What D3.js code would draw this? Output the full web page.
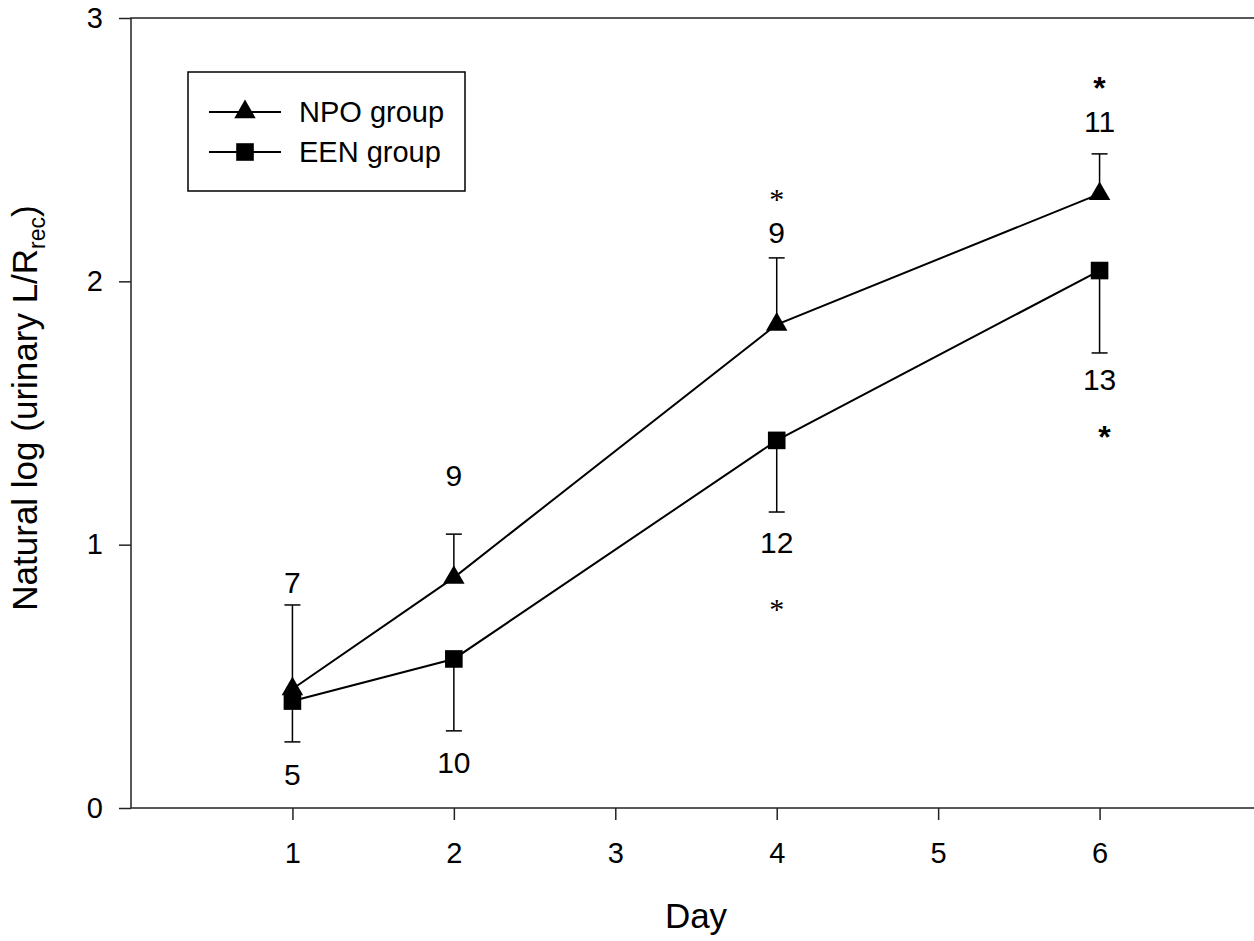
<!DOCTYPE html>
<html>
<head>
<meta charset="utf-8">
<script src="https://cdn.jsdelivr.net/npm/d3@7"></script>
<style>
  body { margin: 0; background: #fff; }
  text { font-family: Arial, "Liberation Sans", sans-serif; fill: #000; }
</style>
</head>
<body>
<div id="chart"></div>
<script>
// Data
var days = [1, 2, 4, 6];
var npoMean = [0.452, 0.875, 1.836, 2.332];
var npoUpper = [0.771, 1.04, 2.089, 2.484];
var eenMean = [0.406, 0.566, 1.396, 2.041];
var eenLower = [0.251, 0.293, 1.124, 1.728];
var npoN = ['7', '9', '9', '11'];
var eenN = ['5', '10', '12', '13'];
var npoNy = [0.856, 1.265, 2.186, 2.609];
var eenNy = [0.129, 0.175, 1.008, 1.629];
// significance stars: day, y value, style
var stars = [
  {day: 4, y: 2.355, bold: false},
  {day: 6, y: 2.769, bold: true},
  {day: 4, y: 0.80, bold: false},
  {day: 6.03, y: 1.443, bold: true}
];
var xTicks = [1, 2, 3, 4, 5, 6];
var yTicks = [0, 1, 2, 3];

var width = 1254, height = 941;

var xScale = d3.scaleLinear().domain([0, 7]).range([131, 1261]);
var yScale = d3.scaleLinear().domain([0, 3]).range([808, 18]);

var svg = d3.select('#chart').append('svg')
    .attr('width', width)
    .attr('height', height);

// Frame
svg.append('rect')
    .attr('x', xScale(0))
    .attr('y', yScale(3))
    .attr('width', xScale(7) - xScale(0))
    .attr('height', yScale(0) - yScale(3))
    .attr('fill', 'none')
    .attr('stroke', '#222')
    .attr('stroke-width', 1.5);

// Axes
var xAxis = d3.axisBottom(xScale).tickValues(xTicks).tickSize(12).tickPadding(22).tickFormat(d3.format('d'));
var yAxis = d3.axisLeft(yScale).tickValues(yTicks).tickSize(12).tickPadding(16).tickFormat(d3.format('d'));

var gx = svg.append('g').attr('transform', 'translate(0,' + yScale(0) + ')').call(xAxis);
var gy = svg.append('g').attr('transform', 'translate(' + xScale(0) + ',0)').call(yAxis);
[gx, gy].forEach(function(g) {
  g.attr('font-size', null).attr('font-family', null);
  g.select('.domain').remove();
  g.selectAll('line').attr('stroke', '#222').attr('stroke-width', 1.5);
  g.selectAll('text').style('font-size', '29px').attr('fill', '#000');
});

// Axis titles
svg.append('text')
    .attr('x', 696).attr('y', 928)
    .attr('text-anchor', 'middle')
    .style('font-size', '35px')
    .text('Day');

var yt = svg.append('text')
    .attr('transform', 'translate(37,' + 408 + ') rotate(-90)')
    .attr('text-anchor', 'middle')
    .style('font-size', '35px');
yt.append('tspan').text('Natural log (urinary L/R');
yt.append('tspan').attr('dy', 8).style('font-size', '23px').text('rec');
yt.append('tspan').attr('dy', -8).text(')');

var npo = days.map(function(d, i) { return {x: d, y: npoMean[i], e: npoUpper[i]}; });
var een = days.map(function(d, i) { return {x: d, y: eenMean[i], e: eenLower[i]}; });

var line = d3.line()
    .x(function(d) { return xScale(d.x); })
    .y(function(d) { return yScale(d.y); });

// Error bars
function errorBars(data) {
  var g = svg.append('g').attr('stroke', '#000').attr('stroke-width', 1.5);
  g.selectAll('.stem').data(data).enter().append('line')
      .attr('x1', function(d) { return xScale(d.x); })
      .attr('x2', function(d) { return xScale(d.x); })
      .attr('y1', function(d) { return yScale(d.y); })
      .attr('y2', function(d) { return yScale(d.e); });
  g.selectAll('.cap').data(data).enter().append('line')
      .attr('x1', function(d) { return xScale(d.x) - 8; })
      .attr('x2', function(d) { return xScale(d.x) + 8; })
      .attr('y1', function(d) { return yScale(d.e); })
      .attr('y2', function(d) { return yScale(d.e); });
}
errorBars(npo);
errorBars(een);

// Lines
[npo, een].forEach(function(data) {
  svg.append('path')
      .attr('d', line(data))
      .attr('fill', 'none')
      .attr('stroke', '#000')
      .attr('stroke-width', 2);
});

var tri = d3.symbol().type(d3.symbolTriangle).size(200);
var sq = d3.symbol().type(d3.symbolSquare).size(310);

svg.selectAll('.sq').data(een).enter().append('path')
    .attr('d', sq)
    .attr('transform', function(d) { return 'translate(' + xScale(d.x) + ',' + yScale(d.y) + ')'; })
    .attr('fill', '#000');
svg.selectAll('.tri').data(npo).enter().append('path')
    .attr('d', tri)
    .attr('transform', function(d) { return 'translate(' + xScale(d.x) + ',' + yScale(d.y) + ')'; })
    .attr('fill', '#000');

// n labels
function nLabels(labels, ys) {
  svg.append('g').selectAll('text').data(labels).enter().append('text')
      .attr('x', function(d, i) { return xScale(days[i]); })
      .attr('y', function(d, i) { return yScale(ys[i]); })
      .attr('dy', '0.36em')
      .attr('text-anchor', 'middle')
      .style('font-size', '30px')
      .text(function(d) { return d; });
}
nLabels(npoN, npoNy);
nLabels(eenN, eenNy);

// Stars
svg.append('g').selectAll('text').data(stars).enter().append('text')
    .attr('x', function(d) { return xScale(d.day); })
    .attr('y', function(d) { return yScale(d.y); })
    .attr('dy', function(d) { return d.bold ? '0.62em' : '0.72em'; })
    .attr('text-anchor', 'middle')
    .style('font-family', function(d) { return d.bold ? 'Arial, "Liberation Sans", sans-serif' : '"Liberation Serif", serif'; })
    .style('font-weight', function(d) { return d.bold ? 'bold' : 'normal'; })
    .style('font-size', function(d) { return d.bold ? '32px' : '30px'; })
    .attr('fill', function(d) { return d.bold ? '#000' : '#333'; })
    .text('*');

// Legend
var legend = svg.append('g');
legend.append('rect')
    .attr('x', 188).attr('y', 72)
    .attr('width', 277).attr('height', 119)
    .attr('fill', '#fff').attr('stroke', '#000').attr('stroke-width', 1.5);
var legendItems = [{label: 'NPO group', sym: tri, y: 112}, {label: 'EEN group', sym: sq, y: 152}];
legendItems.forEach(function(it) {
  legend.append('line')
      .attr('x1', 209).attr('x2', 281).attr('y1', it.y).attr('y2', it.y)
      .attr('stroke', '#000').attr('stroke-width', 2);
  legend.append('path').attr('d', it.sym)
      .attr('transform', 'translate(245,' + it.y + ')').attr('fill', '#000');
  legend.append('text')
      .attr('x', 299).attr('y', it.y).attr('dy', '0.36em')
      .style('font-size', '29px')
      .text(it.label);
});
</script>
</body>
</html>
